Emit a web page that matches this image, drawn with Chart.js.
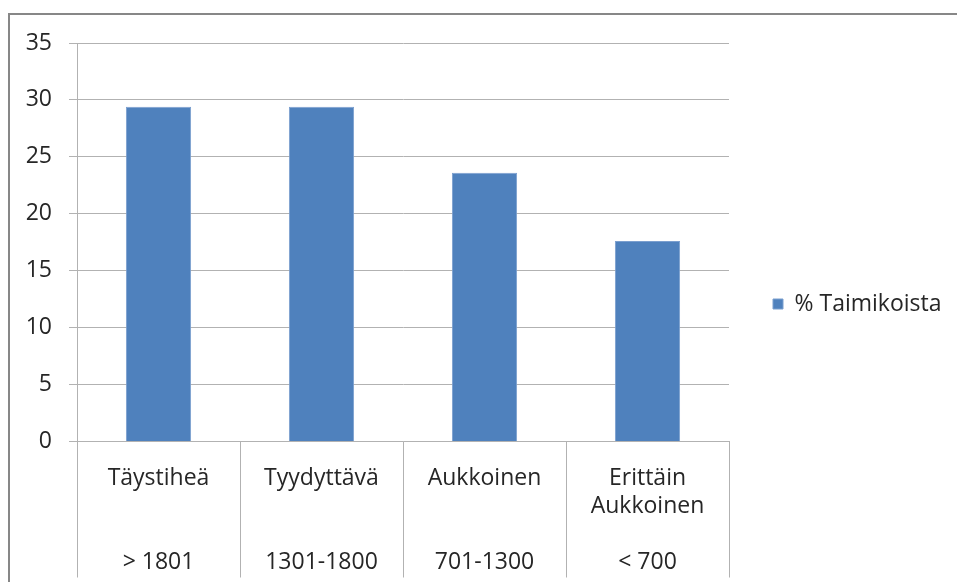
<!DOCTYPE html>
<html>
<head>
<meta charset="utf-8">
<script src="https://cdn.jsdelivr.net/npm/chart.js@4/dist/chart.umd.min.js"></script>
<style>
html,body{margin:0;padding:0;background:#fff;}
#wrap{width:957px;height:582px;position:relative;}
</style>
</head>
<body>
<div id="wrap"><canvas id="c" width="957" height="582"></canvas></div>
<script>
const categories = ["Täystiheä", "Tyydyttävä", "Aukkoinen", "Erittäin Aukkoinen"];
const categoryLines = [["Täystiheä"], ["Tyydyttävä"], ["Aukkoinen"], ["Erittäin", "Aukkoinen"]];
const ranges = ["> 1801", "1301-1800", "701-1300", "< 700"];
const values = [29.4, 29.4, 23.6, 17.6];
const seriesName = "% Taimikoista";
const yTicks = [0, 5, 10, 15, 20, 25, 30, 35];

const FONT = "'Open Sans', sans-serif";
const FS = 23;
const TXT = '#262626';
const GRID = '#b2b2b2';

// multi-line tick labels: name lines, blank(s), then range on 4th line
const tickLabels = categoryLines.map((lines, i) => {
  const out = lines.slice();
  while (out.length < 3) out.push('');
  out.push(ranges[i]);
  return out;
});

// measure legend text to place chart area right edge
const mctx = document.createElement('canvas').getContext('2d');
mctx.font = FS + "px " + FONT;
const legendTextW = mctx.measureText(seriesName).width;
const legendPad = 44;
const legendWidth = legendPad + 10 + FS / 2 + legendTextW + 10;
const rightPad = Math.max(0, 957 - 729 - legendWidth);

const framePlugin = {
  id: 'frame',
  afterLayout(chart) {
    if (chart.legend) {
      chart.legend.top -= 8.5;
      chart.legend.bottom -= 8.5;
    }
  },
  beforeDraw(chart) {
    const ctx = chart.ctx;
    ctx.save();
    ctx.strokeStyle = '#878787';
    ctx.lineWidth = 2;
    ctx.beginPath();
    ctx.moveTo(9, 600);
    ctx.lineTo(9, 14);
    ctx.lineTo(960, 14);
    ctx.stroke();
    ctx.restore();
  }
};

new Chart(document.getElementById('c'), {
  type: 'bar',
  data: {
    labels: tickLabels,
    datasets: [{
      label: seriesName,
      data: values,
      backgroundColor: '#4f81bd',
      borderColor: '#7b9fcf',
      borderWidth: 1,
      barPercentage: 0.4,
      categoryPercentage: 1.0
    }]
  },
  options: {
    responsive: false,
    animation: false,
    devicePixelRatio: 1,
    layout: { padding: { top: 43, left: 0, right: rightPad, bottom: 0 } },
    plugins: {
      tooltip: { enabled: false },
      legend: {
        position: 'right',
        align: 'center',
        labels: {
          boxWidth: 10,
          boxHeight: 10,
          padding: legendPad,
          color: TXT,
          font: { family: FONT, size: FS }
        }
      }
    },
    scales: {
      x: {
        offset: true,
        afterFit(scale) { scale.height = 140.5; },
        grid: {
          offset: true,
          drawOnChartArea: false,
          drawTicks: true,
          tickLength: 136,
          color: GRID,
          lineWidth: 1
        },
        border: { display: true, color: GRID, width: 1 },
        ticks: {
          padding: -113.5,
          maxRotation: 0,
          autoSkip: false,
          color: TXT,
          font: { family: FONT, size: FS, lineHeight: 28 / FS }
        }
      },
      y: {
        min: 0,
        max: 35,
        afterFit(scale) { scale.width = 77; },
        afterBuildTicks(scale) { scale.ticks = yTicks.map(v => ({ value: v })); },
        grid: {
          color: GRID,
          lineWidth: 1,
          drawTicks: true,
          tickLength: 8
        },
        border: { display: true, color: GRID, width: 1 },
        ticks: {
          padding: 17,
          color: TXT,
          font: { family: FONT, size: FS }
        }
      }
    }
  },
  plugins: [framePlugin]
});
</script>
</body>
</html>
